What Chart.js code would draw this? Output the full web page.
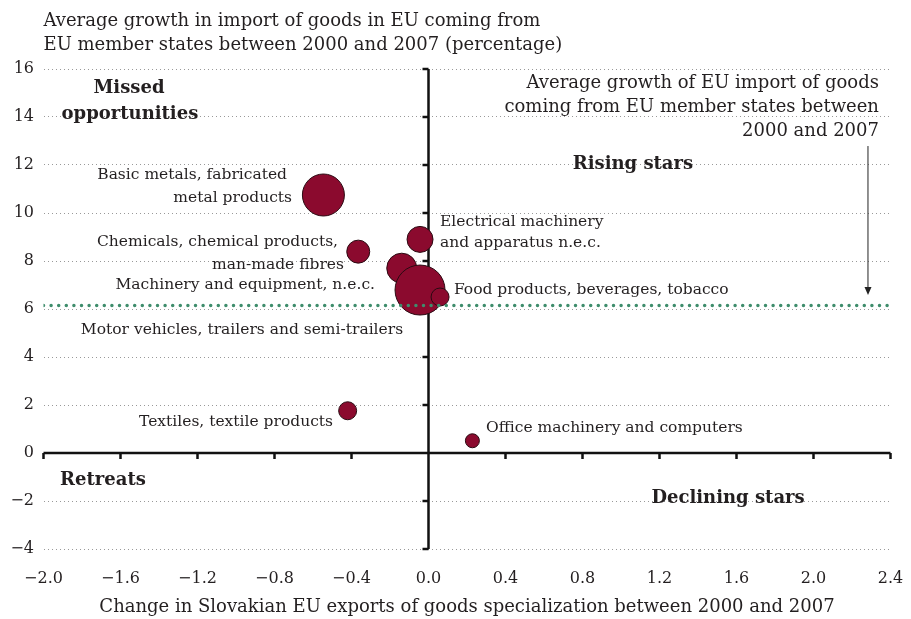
<!DOCTYPE html>
<html>
<head>
<meta charset="utf-8">
<script src="https://cdn.jsdelivr.net/npm/chart.js@4.4.1/dist/chart.umd.min.js"></script>
<style>
  html, body { margin: 0; padding: 0; background: #fff; }
</style>
</head>
<body>
<canvas id="chart" width="911" height="619"></canvas>
<script>
const sectors = [
  "Basic metals, fabricated metal products",
  "Chemicals, chemical products, man-made fibres",
  "Electrical machinery and apparatus n.e.c.",
  "Machinery and equipment, n.e.c.",
  "Motor vehicles, trailers and semi-trailers",
  "Food products, beverages, tobacco",
  "Textiles, textile products",
  "Office machinery and computers"
];
const specChange = [-0.546, -0.365, -0.044, -0.139, -0.044, 0.06, -0.42, 0.228];
const importGrowth = [10.75, 8.39, 8.9, 7.7, 6.79, 6.5, 1.76, 0.51];
const bubbleSize = [21, 11.5, 13, 15, 25, 9, 9, 7];
const euAverage = 6.15;

const xTicks = [-2.0, -1.6, -1.2, -0.8, -0.4, 0.0, 0.4, 0.8, 1.2, 1.6, 2.0, 2.4];
const yTicks = [-4, -2, 0, 2, 4, 6, 8, 10, 12, 14, 16];

const titleLines = [
  "Average growth in import of goods in EU coming from",
  "EU member states between 2000 and 2007 (percentage)"
];
const xTitle = "Change in Slovakian EU exports of goods specialization between 2000 and 2007";

// sector labels, anchored in data units
const sectorNotes = [
  { text: "Basic metals, fabricated", x: -0.735, y: 11.58, align: "right" },
  { text: "metal products", x: -0.709, y: 10.63, align: "right" },
  { text: "Chemicals, chemical products,", x: -0.47, y: 8.79, align: "right" },
  { text: "man-made fibres", x: -0.439, y: 7.83, align: "right" },
  { text: "Machinery and equipment, n.e.c.", x: -0.278, y: 7.0, align: "right" },
  { text: "Motor vehicles, trailers and semi-trailers", x: -0.132, y: 5.13, align: "right" },
  { text: "Electrical machinery", x: 0.06, y: 9.63, align: "left" },
  { text: "and apparatus n.e.c.", x: 0.06, y: 8.75, align: "left" },
  { text: "Food products, beverages, tobacco", x: 0.132, y: 6.79, align: "left" },
  { text: "Textiles, textile products", x: -0.496, y: 1.29, align: "right" },
  { text: "Office machinery and computers", x: 0.299, y: 1.04, align: "left" }
];
const averageNote = [
  { text: "Average growth of EU import of goods", x: 2.34, y: 15.42, align: "right" },
  { text: "coming from EU member states between", x: 2.34, y: 14.42, align: "right" },
  { text: "2000 and 2007", x: 2.34, y: 13.42, align: "right" }
];
const quadrantNotes = [
  { text: "Missed", x: -1.556, y: 15.21, align: "center" },
  { text: "opportunities", x: -1.551, y: 14.13, align: "center" },
  { text: "Rising stars", x: 1.062, y: 12.04, align: "center" },
  { text: "Retreats", x: -1.914, y: -1.125, align: "left" },
  { text: "Declining stars", x: 1.556, y: -1.875, align: "center" }
];
const arrow = { x: 2.283, from: 12.79, to: 6.58 };

const FONT = '"DejaVu Serif", "Liberation Serif", serif';
const INK = "#231f20";

function minus(v) {
  return v < 0 ? "\u2212" + Math.abs(v) : String(v);
}

function drawNotes(ctx, x, y, list, font) {
  ctx.font = font;
  list.forEach((n) => {
    ctx.textAlign = n.align;
    ctx.fillText(n.text, x.getPixelForValue(n.x), y.getPixelForValue(n.y));
  });
}

const quadrantAxes = {
  id: "quadrantAxes",
  beforeDatasetsDraw(chart) {
    const { ctx, scales: { x, y } } = chart;
    const x0 = x.getPixelForValue(0);
    const y0 = y.getPixelForValue(0);
    ctx.save();
    ctx.strokeStyle = "#111";
    ctx.lineWidth = 2.5;
    ctx.beginPath();
    ctx.moveTo(x.left, y0);
    ctx.lineTo(x.right, y0);
    ctx.moveTo(x0, y.top);
    ctx.lineTo(x0, y.bottom);
    xTicks.forEach((v) => {
      const px = x.getPixelForValue(v);
      ctx.moveTo(px, y0);
      ctx.lineTo(px, y0 + 6);
    });
    yTicks.forEach((v) => {
      const py = y.getPixelForValue(v);
      ctx.moveTo(x0 - 6, py);
      ctx.lineTo(x0, py);
    });
    ctx.stroke();
    ctx.restore();
  },
  afterDraw(chart) {
    const { ctx, chartArea, scales: { x, y } } = chart;
    ctx.save();
    ctx.fillStyle = INK;
    ctx.textBaseline = "middle";
    ctx.font = "18px " + FONT;
    ctx.textAlign = "left";
    ctx.fillText(titleLines[0], chartArea.left, 21);
    ctx.fillText(titleLines[1], chartArea.left, 45);

    drawNotes(ctx, x, y, sectorNotes, "15.5px " + FONT);
    drawNotes(ctx, x, y, averageNote, "18px " + FONT);
    drawNotes(ctx, x, y, quadrantNotes, "bold 18px " + FONT);

    // arrow pointing at the EU average line
    const ax = x.getPixelForValue(arrow.x);
    const top = y.getPixelForValue(arrow.from);
    const tip = y.getPixelForValue(arrow.to);
    ctx.strokeStyle = "#222";
    ctx.fillStyle = "#222";
    ctx.lineWidth = 1;
    ctx.beginPath();
    ctx.moveTo(ax, top);
    ctx.lineTo(ax, tip - 6);
    ctx.stroke();
    ctx.beginPath();
    ctx.moveTo(ax - 3.5, tip - 8);
    ctx.lineTo(ax + 3.5, tip - 8);
    ctx.lineTo(ax, tip);
    ctx.closePath();
    ctx.fill();
    ctx.restore();
  }
};

new Chart(document.getElementById("chart"), {
  type: "bubble",
  data: {
    datasets: [
      {
        type: "line",
        label: "EU average",
        data: [{ x: xTicks[0], y: euAverage }, { x: xTicks[xTicks.length - 1], y: euAverage }],
        borderColor: "#3f8d6c",
        borderWidth: 3.5,
        borderDash: [0, 7.6],
        borderCapStyle: "round",
        pointRadius: 0,
        fill: false,
        order: 0
      },
      {
        label: "Sectors",
        data: sectors.map((name, i) => ({ x: specChange[i], y: importGrowth[i], r: bubbleSize[i] })),
        backgroundColor: "#8b0a2e",
        borderColor: "#2a0a12",
        borderWidth: 1,
        order: 1
      }
    ]
  },
  options: {
    responsive: false,
    animation: false,
    events: [],
    layout: {
      autoPadding: false,
      padding: { top: 69, right: 20.5, bottom: 0, left: 0 }
    },
    plugins: {
      legend: { display: false },
      tooltip: { enabled: false }
    },
    scales: {
      x: {
        type: "linear",
        min: -2,
        max: 2.4,
        afterBuildTicks: (scale) => {
          scale.ticks = xTicks.map((v) => ({ value: v }));
        },
        afterFit: (scale) => {
          scale.height = 70;
          scale.paddingLeft = 0;
          scale.paddingRight = 0;
        },
        grid: { display: false, drawTicks: false },
        border: { display: false },
        ticks: {
          color: INK,
          padding: 20,
          maxRotation: 0,
          autoSkip: false,
          font: { family: FONT, size: 16 },
          callback: (v) => (v < 0 ? "\u2212" + Math.abs(v).toFixed(1) : v.toFixed(1))
        },
        title: {
          display: true,
          text: xTitle,
          color: INK,
          font: { family: FONT, size: 18 },
          padding: { top: 0, bottom: 1 }
        }
      },
      y: {
        type: "linear",
        min: -4,
        max: 16,
        afterBuildTicks: (scale) => {
          scale.ticks = yTicks.map((v) => ({ value: v }));
        },
        afterFit: (scale) => {
          scale.width = 43.5;
          scale.paddingTop = 0;
          scale.paddingBottom = 0;
        },
        grid: { color: "#999", lineWidth: 1, drawTicks: false },
        border: { display: false, dash: [1, 3] },
        ticks: {
          color: INK,
          padding: 9.5,
          font: { family: FONT, size: 16 },
          callback: (v) => minus(v)
        }
      }
    }
  },
  plugins: [quadrantAxes]
});
</script>
</body>
</html>
